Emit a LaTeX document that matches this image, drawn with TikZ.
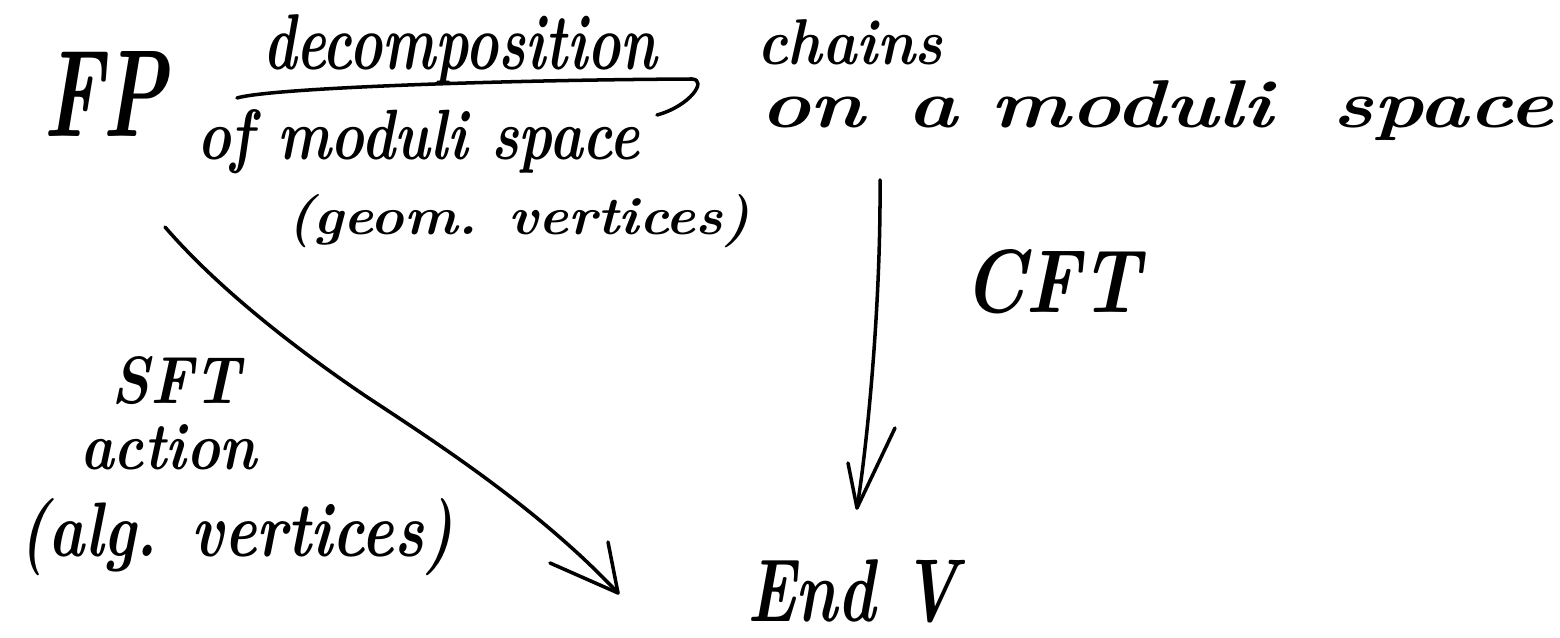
\documentclass[tikz,border=0pt]{standalone}
\usepackage{graphicx}
\newlength\px
\setlength\px{0.02cm}
\newcommand\hw[3]{\resizebox{#1\px}{#2\px}{\bfseries\itshape #3}}
\tikzset{
  hand/.style={line width=2pt, line cap=round, line join=round, black},
  word/.style={inner sep=0pt, outer sep=0pt, anchor=base west}
}
\begin{document}
\begin{tikzpicture}[x=0.02cm, y=-0.02cm]
\useasboundingbox (0,0) rectangle (1560,638);
% texts
\node[word] (FP) at (43,137) {\hw{124}{85}{FP}};
\node[word] (dec) at (263,70) {\hw{394}{55}{decomposition}};
\node[word] (ofm) at (197,160) {\hw{443}{50}{of moduli space}};
\node[word] (geom) at (287,235) {\hw{463}{40}{(geom. vertices)}};
\node[word] (chains) at (757,65) {\hw{186}{45}{chains}};
\node[word] (onm) at (760,128) {\hw{793}{47}{on\hspace{0.5em}a\hspace{0.4em}moduli\hspace{0.7em}space}};
\node[word] (CFT) at (963,313) {\hw{177}{63}{CFT}};
\node[word] (SFT) at (112,404) {\hw{128}{47}{SFT}};
\node[word] (action) at (80,470) {\hw{177}{45}{action}};
\node[word] (alg) at (20,557) {\hw{433}{58}{(alg. vertices)}};
\node[word] (End) at (747,622) {\hw{211}{62}{End V}};
% connector end points
\coordinate (t0) at (237,98);
\coordinate (t1) at (692,79);
\coordinate (th) at (657,115);
\coordinate (v0) at (880,180);
\coordinate (v1) at (857,508);
\coordinate (vb1) at (848,463);
\coordinate (vb2) at (895,428);
\coordinate (g0) at (165,227);
\coordinate (gm) at (367,397);
\coordinate (g1) at (618,593);
\coordinate (gb1) at (550,563);
\coordinate (gb2) at (608,542);
% top arrow: FP -> chains
\draw[hand] (t0) .. controls (270,88) and (500,80) .. (t1)
  .. controls (708,80) and (690,106) .. (th);
% vertical arrow: chains -> End V
\draw[hand] (v0) .. controls (881,300) and (868,440) .. (v1);
\draw[hand] (vb1) -- (v1) -- (vb2);
% diagonal arrow: FP -> End V
\draw[hand] (g0) .. controls (215,285) and (290,345) .. (gm)
  .. controls (440,445) and (540,510) .. (g1);
\draw[hand] (gb1) -- (g1) -- (gb2);
\end{tikzpicture}
\end{document}
